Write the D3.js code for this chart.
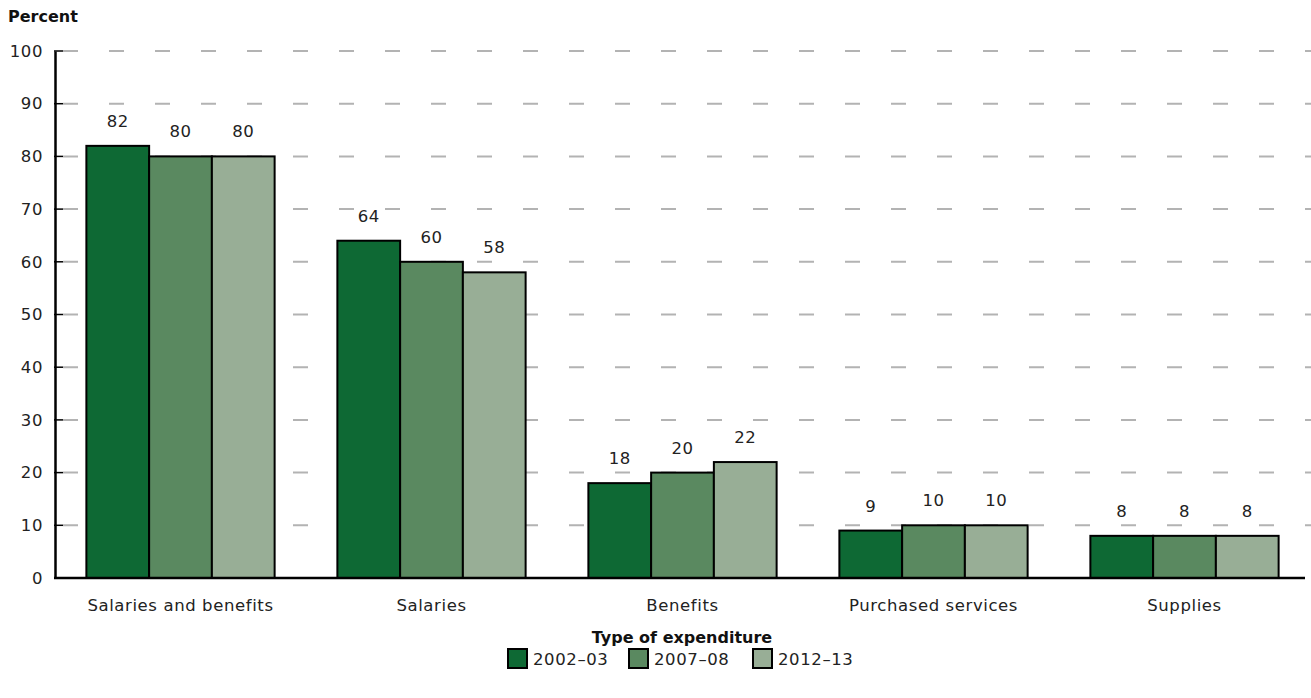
<!DOCTYPE html>
<html><head><meta charset="utf-8">
<script src="https://cdn.jsdelivr.net/npm/d3@7"></script>
<style>body{margin:0;background:#fff}svg{display:block;font-family:"DejaVu Sans",sans-serif}</style>
</head><body>
<svg id="c" width="1311" height="698"></svg>
<script>
const categories = ["Salaries and benefits","Salaries","Benefits","Purchased services","Supplies"];
const seriesNames = ["2002–03","2007–08","2012–13"];
const v2002 = [82,64,18,9,8];
const v2007 = [80,60,20,10,8];
const v2012 = [80,58,22,10,8];
const yTicks = [0,10,20,30,40,50,60,70,80,90,100];
const colors = ["#0e6934","#5a8960","#98ae96"];
const series = [v2002,v2007,v2012];
const FS = 16.5, LS = 0.6;

const svg = d3.select("#c");
const x0 = d3.scaleBand().domain(categories).range([55,1310]).paddingInner(0.25).paddingOuter(0.125);
const x1 = d3.scaleBand().domain(seriesNames).range([0,x0.bandwidth()]);
const y = d3.scaleLinear().domain([0,100]).range([578,51]);

// gridlines
svg.append("g").selectAll("line").data(yTicks.filter(d=>d>0)).join("line")
  .attr("x1",55).attr("x2",1311).attr("y1",d=>y(d)).attr("y2",d=>y(d))
  .attr("stroke","#b3b3b3").attr("stroke-width",2).attr("stroke-dasharray","0,8,15,23");

// y axis
const ya = svg.append("g").attr("transform","translate(55,0)")
  .call(d3.axisLeft(y).tickValues(yTicks).tickSize(0).tickPadding(12));
ya.select(".domain").attr("stroke","#000").attr("stroke-width",2.5);
ya.selectAll("text").attr("font-size",FS).attr("letter-spacing",LS).attr("fill","#222").attr("font-family","DejaVu Sans");
svg.append("g").selectAll("line").data(yTicks).join("line")
  .attr("x1",54).attr("x2",63).attr("y1",d=>y(d)).attr("y2",d=>y(d))
  .attr("stroke","#000").attr("stroke-width",1.5);

// bars
const g = svg.append("g").selectAll("g").data(categories).join("g")
  .attr("transform",d=>`translate(${x0(d)},0)`);
g.selectAll("rect").data((d,i)=>series.map((s,j)=>({k:seriesNames[j],v:s[i],c:colors[j]}))).join("rect")
  .attr("x",d=>x1(d.k)).attr("width",x1.bandwidth())
  .attr("y",d=>y(d.v)).attr("height",d=>y(0)-y(d.v))
  .attr("fill",d=>d.c).attr("stroke","#000").attr("stroke-width",2);
g.selectAll("text").data((d,i)=>series.map((s,j)=>({k:seriesNames[j],v:s[i]}))).join("text")
  .attr("x",d=>x1(d.k)+x1.bandwidth()/2).attr("y",d=>y(d.v)-19)
  .attr("text-anchor","middle").attr("font-size",FS).attr("letter-spacing",LS).attr("fill","#222").text(d=>d.v);

// x axis line
svg.append("line").attr("x1",54).attr("x2",1305).attr("y1",y(0)).attr("y2",y(0))
  .attr("stroke","#000").attr("stroke-width",2.5);
svg.append("g").selectAll("text").data(categories).join("text")
  .attr("x",d=>x0(d)+x0.bandwidth()/2).attr("y",611).attr("text-anchor","middle")
  .attr("font-size",FS).attr("letter-spacing",LS).attr("fill","#222").text(d=>d);

svg.append("text").attr("x",8).attr("y",22).attr("font-size",16).attr("font-weight","bold").attr("fill","#111").text("Percent");
svg.append("text").attr("x",682).attr("y",643).attr("text-anchor","middle").attr("font-size",16).attr("font-weight","bold").attr("fill","#111").text("Type of expenditure");

// legend
const legX = [508,629,753];
const lg = svg.append("g").selectAll("g").data(seriesNames).join("g")
  .attr("transform",(d,i)=>`translate(${legX[i]},649)`);
lg.append("rect").attr("width",19).attr("height",19).attr("fill",(d,i)=>colors[i]).attr("stroke","#000").attr("stroke-width",2);
lg.append("text").attr("x",25).attr("y",16).attr("font-size",FS).attr("letter-spacing",LS).attr("fill","#222").text(d=>d);
</script>
</body></html>
